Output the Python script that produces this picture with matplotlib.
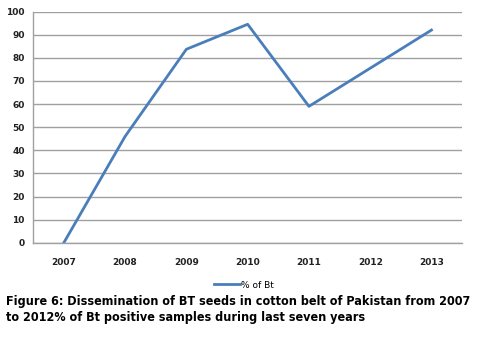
import matplotlib
matplotlib.use("Agg")
from matplotlib import pyplot as plt

years = ['2007', '2008', '2009', '2010', '2011', '2012', '2013']
bt_percent = [0, 46, 83.7, 94.5, 59, 75.5, 92]
yticks = list(range(0, 101, 10))

fig = plt.figure(figsize=(4.88, 3.4), dpi=100)
ax = fig.add_axes([0.068, 0.286, 0.879, 0.68])

x = list(range(len(years)))
line, = ax.plot(x, bt_percent, color='#4A7EBB', linewidth=2.0, label='% of Bt')

ax.set_xlim(-0.5, len(years) - 0.5)
ax.set_ylim(0, 100)
ax.set_yticks(yticks)
ax.set_xticks(x)
ax.set_xticklabels(years)
ax.tick_params(axis='both', length=0, labelsize=6.5, colors='#222222')
ax.tick_params(axis='x', pad=11)
ax.tick_params(axis='y', pad=6)
for lab in ax.get_xticklabels() + ax.get_yticklabels():
    lab.set_fontweight('bold')

ax.grid(axis='y', color='#a0a0a0', linewidth=1.0)
ax.set_axisbelow(True)
for side in ['top', 'right']:
    ax.spines[side].set_visible(False)
for side in ['left', 'bottom']:
    ax.spines[side].set_color('#a0a0a0')
    ax.spines[side].set_linewidth(1.0)

fig.legend(handles=[line], loc='center', bbox_to_anchor=(0.5, 1 - 285 / 340),
           frameon=False, fontsize=6.5, handlelength=2.8, handletextpad=0.1)

fig.text(0.012, 1 - 310 / 340,
         'Figure 6: Dissemination of BT seeds in cotton belt of Pakistan from 2007\n'
         'to 2012% of Bt positive samples during last seven years',
         ha='left', va='center', fontsize=9.0, fontweight='bold',
         linespacing=1.3, fontstretch='condensed')

fig.savefig('out.png', dpi=100)
